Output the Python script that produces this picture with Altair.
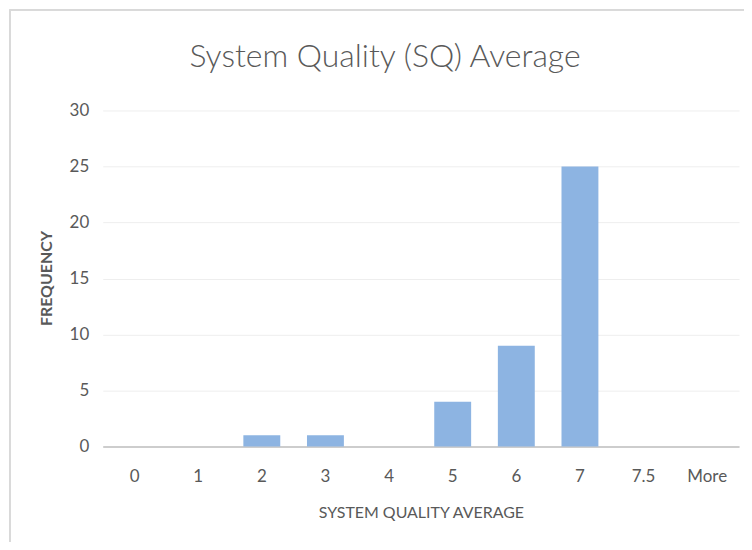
import altair as alt
import pandas as pd

categories = ["0", "1", "2", "3", "4", "5", "6", "7", "7.5", "More"]
frequency = [0, 0, 1, 1, 0, 4, 9, 25, 0, 0]
y_ticks = [0, 5, 10, 15, 20, 25, 30]

df = pd.DataFrame({"bin": categories, "freq": frequency})

FONT = "Lato"
GREY = "#595959"

bars = alt.Chart(df).mark_bar(color="#8db4e2").encode(
    x=alt.X("bin:N", sort=categories,
            scale=alt.Scale(paddingInner=0.42, paddingOuter=0.21),
            axis=alt.Axis(title="SYSTEM QUALITY AVERAGE", labelAngle=0, labelFontSize=17,
                          labelColor=GREY, labelFont=FONT, labelPadding=22, ticks=False,
                          domain=True, domainColor="#bfbfbf", domainWidth=1.5,
                          titleFont=FONT, titleFontSize=16, titleFontWeight="normal",
                          titleColor=GREY, titleY=66, titleBaseline="middle", grid=False)),
    y=alt.Y("freq:Q", scale=alt.Scale(domain=[0, 30]),
            axis=alt.Axis(title="FREQUENCY", values=y_ticks, labelFontSize=17, labelColor=GREY,
                          labelFont=FONT, labelPadding=14, ticks=False, domain=False,
                          gridColor="#eeeeee", gridWidth=1,
                          titleFont=FONT, titleFontSize=16, titleFontWeight="bold",
                          titleColor=GREY, titleX=-56, titleY=168, titleAngle=-90,
                          titleAlign="center", titleBaseline="middle")),
)

border_top = alt.Chart(df).mark_rule(color="#d9d9d9", strokeWidth=1.5).encode(
    x=alt.value(-93), x2=alt.value(660), y=alt.value(-101))
border_left = alt.Chart(df).mark_rule(color="#d9d9d9", strokeWidth=1.5).encode(
    x=alt.value(-93), y=alt.value(-101), y2=alt.value(450))

chart = alt.layer(border_top, border_left, bars).properties(
    width=638, height=337,
    title=alt.TitleParams("System Quality (SQ) Average", font=FONT, fontSize=32, fontWeight=300,
                          color=GREY, dx=-36, offset=-65, anchor="middle"),
    autosize=alt.AutoSizeParams(type="none"),
    padding={"left": 95, "top": 102, "right": 5, "bottom": 95},
).configure_view(stroke=None)

chart.save("out.html", embed_options={"renderer": "svg", "actions": False})
